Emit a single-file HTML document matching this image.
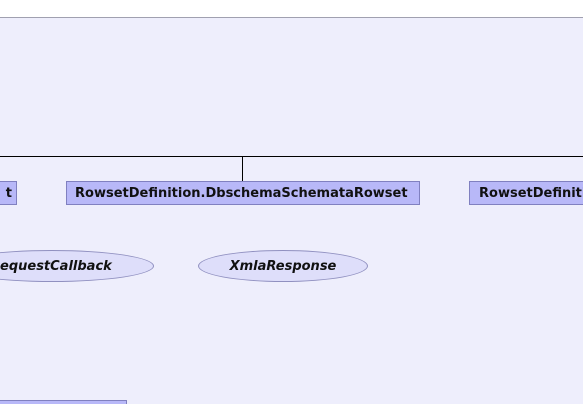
<!DOCTYPE html>
<html><head><style>
html,body{margin:0;width:583px;height:404px;overflow:hidden}
body{background:#fff;position:relative;font-family:"DejaVu Sans","Liberation Sans",sans-serif}
#bg{position:absolute;left:0;top:17px;width:583px;height:387px;background:#eeeefc;border-top:1px solid #a0a0b0}
.b{position:absolute;background:#b8b8f8;border:1px solid #8080c0;font-weight:bold;font-size:13px;line-height:24px;color:#111;white-space:nowrap;overflow:hidden;box-sizing:border-box;height:24px}
.e{position:absolute;height:32px;border:1px solid #9090c0;border-radius:50%;background:#dedefa;font-weight:bold;font-style:italic;font-size:13px;line-height:32px;text-align:center;color:#111;box-sizing:border-box}
.l{position:absolute;background:#000}
</style></head><body>
<div id="bg"></div>
<div class="l" style="left:0;top:156px;width:583px;height:1px"></div>
<div class="l" style="left:242px;top:156px;width:1px;height:25px"></div>
<div class="b" style="left:-10px;top:181px;width:27px;text-align:right;padding-right:4px">t</div>
<div class="b" style="left:66px;top:181px;width:354px;padding-left:8px">RowsetDefinition.DbschemaSchemataRowset</div>
<div class="b" style="left:469px;top:181px;width:130px;padding-left:9px">RowsetDefinition.DiscoverRowset</div>
<div class="e" style="left:-50px;top:250px;width:204px;padding-left:49px;text-align:left">equestCallback</div>
<div class="e" style="left:198px;top:250px;width:170px">XmlaResponse</div>
<div class="b" style="left:-10px;top:400px;width:137px"></div>
</body></html>
